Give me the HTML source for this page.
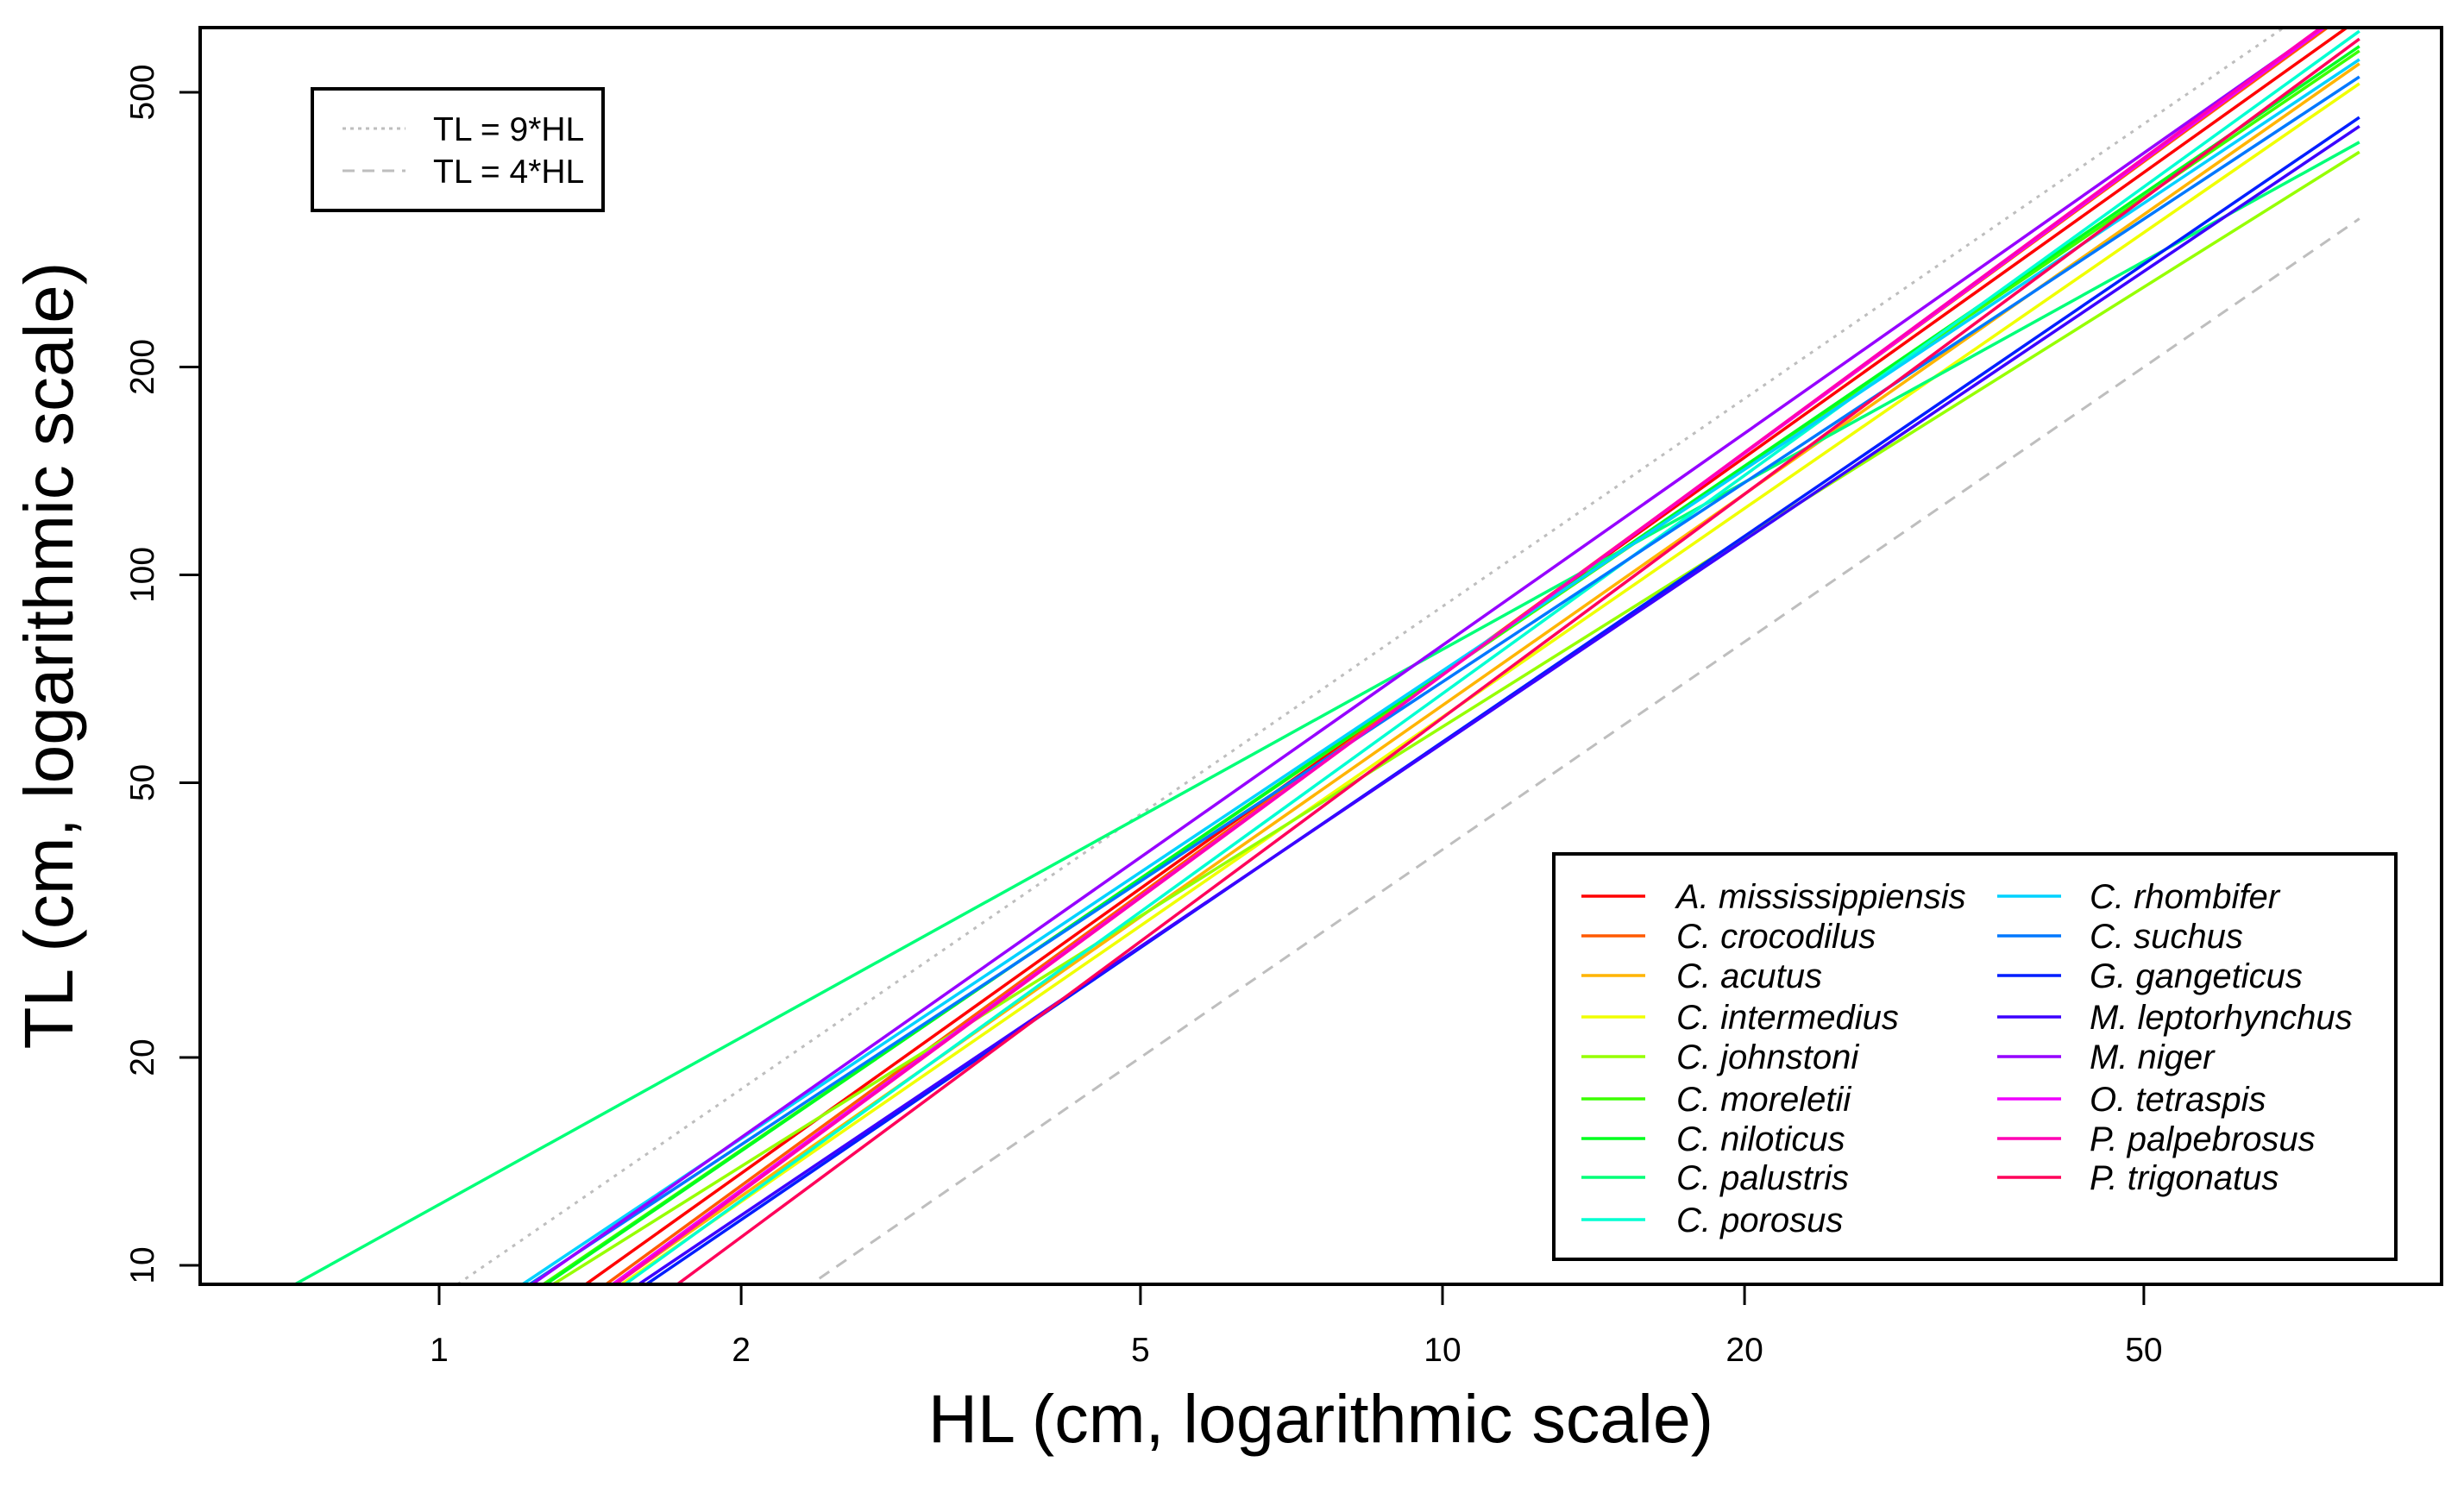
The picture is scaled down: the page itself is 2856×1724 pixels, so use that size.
<!DOCTYPE html>
<html><head><meta charset="utf-8"><style>
html,body{margin:0;padding:0;background:#fff;width:2856px;height:1724px;overflow:hidden;}
svg{display:block;font-family:"Liberation Sans",Arial,sans-serif;}
</style></head><body>
<svg id="chart" width="2856" height="1724" viewBox="0 0 2856 1724" xmlns="http://www.w3.org/2000/svg">
<defs><clipPath id="plotclip"><rect x="232" y="32" width="2598" height="1457"/></clipPath></defs>
<rect width="2856" height="1724" fill="#fff"/>
<g id="series" clip-path="url(#plotclip)"></g>
<g id="axes"></g>
<rect x="232" y="32" width="2598" height="1457" fill="none" stroke="#000" stroke-width="4"/>
<text x="1531" y="1672" font-size="79" text-anchor="middle">HL (cm, logarithmic scale)</text>
<text transform="translate(84,760) rotate(-90)" font-size="80" text-anchor="middle">TL (cm, logarithmic scale)</text>
<g>
<rect x="362" y="103" width="337" height="141" fill="#fff" stroke="#000" stroke-width="4"/>
<line x1="397" y1="149" x2="470" y2="149" stroke="#bebebe" stroke-width="3" stroke-dasharray="4,5"/>
<text x="502" y="163" font-size="39">TL = 9*HL</text>
<line x1="397" y1="198" x2="470" y2="198" stroke="#bebebe" stroke-width="3" stroke-dasharray="14,9"/>
<text x="502" y="212" font-size="39">TL = 4*HL</text>
</g>
<g id="legend">
<rect x="1801" y="990" width="976" height="470" fill="#fff" stroke="#000" stroke-width="4"/>
</g>
</svg>
<script>
const species = ["A. mississippiensis","C. crocodilus","C. acutus","C. intermedius","C. johnstoni","C. moreletii","C. niloticus","C. palustris","C. porosus","C. rhombifer","C. suchus","G. gangeticus","M. leptorhynchus","M. niger","O. tetraspis","P. palpebrosus","P. trigonatus"];
const intercepts = [0.821,0.796,0.794,0.790,0.869,0.870,0.867,1.088,0.778,0.892,0.886,0.768,0.778,0.878,0.788,0.784,0.717];
const slopes = [1.037,1.061,1.017,1.004,0.911,0.987,0.992,0.804,1.050,0.969,0.959,0.990,0.978,1.020,1.067,1.071,1.076];
const hlRange = [0.5, 82];
const refFactors = [9, 4];
const xTicks = [1,2,5,10,20,50];
const yTicks = [10,20,50,100,200,500];

const NS = "http://www.w3.org/2000/svg";
function X(hl){ return 509 + 1163*Math.log10(hl); }
function Y(tl){ return 1467 - 800.5*(Math.log10(tl)-1); }
function mk(tag, attrs, parent){ const e=document.createElementNS(NS,tag); for(const k in attrs) e.setAttribute(k,attrs[k]); parent.appendChild(e); return e; }
const colors = species.map((s,i)=>`hsl(${i*360/17},100%,50%)`);
const series = document.getElementById('series');
const axes = document.getElementById('axes');
const legend = document.getElementById('legend');

refFactors.forEach((f,i)=>{
  const l = mk('line',{x1:X(hlRange[0]),y1:Y(f*hlRange[0]),x2:X(hlRange[1]),y2:Y(f*hlRange[1]),stroke:'#bebebe','stroke-width':3,'stroke-dasharray':i===0?'4,7':'14,10'},series);
  
  
});
species.forEach((s,i)=>{
  const y1 = Math.pow(10, intercepts[i] + slopes[i]*Math.log10(hlRange[0]));
  const y2 = Math.pow(10, intercepts[i] + slopes[i]*Math.log10(hlRange[1]));
  const l = mk('line',{x1:X(hlRange[0]),y1:Y(y1),x2:X(hlRange[1]),y2:Y(y2),stroke:colors[i],'stroke-width':3.5},series);
  
  
});
xTicks.forEach(v=>{
  const t = mk('line',{x1:X(v),y1:1489,x2:X(v),y2:1513,stroke:'#000','stroke-width':3},axes);
  
  
  const lb = mk('text',{x:X(v),y:1578,'font-size':39,'text-anchor':'middle'},axes);
  lb.textContent = v;
  
  
});
yTicks.forEach(v=>{
  const t = mk('line',{x1:208,y1:Y(v),x2:232,y2:Y(v),stroke:'#000','stroke-width':3},axes);
  
  
  const lb = mk('text',{transform:`translate(178,${Y(v)}) rotate(-90)`,'font-size':39,'text-anchor':'middle'},axes);
  lb.textContent = v;
  
  
});
const rowY = [1039,1085,1131,1179,1225,1274,1320,1365,1414];
species.forEach((s,i)=>{
  const col = i<9?0:1; const r = i<9?i:i-9;
  const lx = col===0?1833:2315, tx = col===0?1943:2422;
  const g = mk('g',{},legend);
  
  
  mk('line',{x1:lx,y1:rowY[r],x2:lx+74,y2:rowY[r],stroke:colors[i],'stroke-width':3.5},g);
  const t = mk('text',{x:tx,y:rowY[r]+14,'font-size':40,'font-style':'italic'},g);
  t.textContent = s;
});
</script>
</body></html>
